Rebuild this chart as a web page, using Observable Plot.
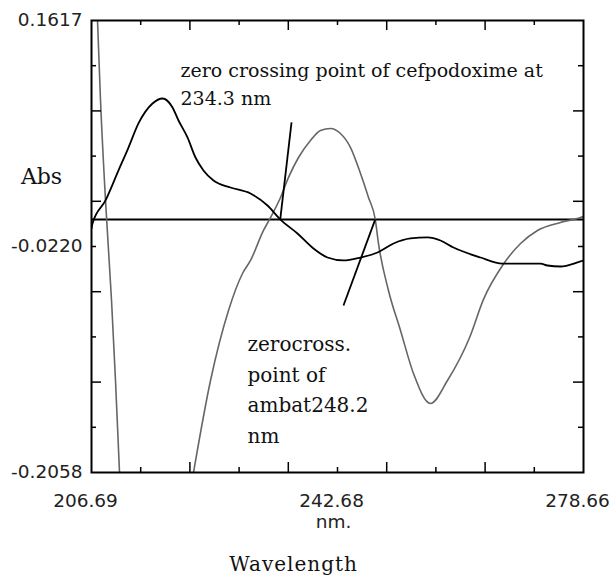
<!DOCTYPE html>
<html><head><meta charset="utf-8">
<script src="https://cdn.jsdelivr.net/npm/d3@7"></script>
<script src="https://cdn.jsdelivr.net/npm/@observablehq/plot@0.6"></script>
<style>body{margin:0;background:#fff}</style>
</head><body><div id="chart"></div>
<script>
// ---- data ----
const xLabels = [206.69, 242.68, 278.66];
const yLabels = [0.1617, -0.0220, -0.2058];

const blackWl  = [206.69, 206.84, 208.74, 210.64, 212.10, 213.56, 215.61, 217.08, 218.54, 219.42, 220.73, 221.90, 223.07, 224.54, 227.02, 229.95, 232.44, 234.30, 236.82, 239.16, 241.21, 243.55, 246.04, 248.53, 250.87, 253.35, 255.84, 257.74, 259.64, 263.59, 266.81, 272.37, 273.39, 275.30, 277.78, 278.66];
const blackAbs = [-0.0074, -0.0033, 0.0154, 0.0398, 0.0584, 0.0780, 0.0942, 0.0983, 0.0910, 0.0804, 0.0666, 0.0503, 0.0398, 0.0316, 0.0259, 0.0210, 0.0113, 0.0000, -0.0115, -0.0237, -0.0310, -0.0334, -0.0310, -0.0269, -0.0196, -0.0155, -0.0147, -0.0172, -0.0229, -0.0310, -0.0359, -0.0359, -0.0375, -0.0383, -0.0350, -0.0334];

const grayWl  = [207.57, 208.01, 208.74, 209.62, 210.20, 210.79, 216.00, 221.61, 224.10, 226.73, 228.78, 229.95, 231.85, 232.73, 234.34, 235.51, 236.97, 238.72, 240.19, 241.65, 243.11, 244.58, 246.04, 247.21, 248.20, 248.67, 250.13, 251.89, 253.79, 256.28, 258.76, 262.00, 264.03, 266.81, 269.45, 271.93, 275.30, 278.22, 278.66];
const grayAbs = [0.1617, 0.0967, 0.0154, -0.0659, -0.1310, -0.2058, null, -0.2058, -0.1310, -0.0741, -0.0440, -0.0334, -0.0090, 0.0000, 0.0178, 0.0341, 0.0503, 0.0641, 0.0723, 0.0739, 0.0698, 0.0584, 0.0373, 0.0178, 0.0000, -0.0196, -0.0578, -0.0903, -0.1253, -0.1497, -0.1310, -0.0960, -0.0650, -0.0375, -0.0196, -0.0090, -0.0025, 0.0015, 0.0024];

const pointerStartWl  = [234.3, 243.55];
const pointerStartAbs = [0.0, -0.0700];
const pointerEndWl    = [235.95, 248.2];
const pointerEndAbs   = [0.0788, 0.0];

const noteTexts = ["zero crossing point of cefpodoxime at\n234.3 nm", "zerocross.\npoint of\nambat248.2\nnm"];
const noteWl  = [219.71, 229.51];
const noteAbs = [0.1320, -0.0894];

// ---- layout ----
const W = 614, H = 579;
const mL = 91, mR = 31, mT = 20, mB = 107;
const xMin = xLabels[0], xMax = xLabels[2];
const yMin = yLabels[2], yMax = yLabels[0];
const ux = (xMax - xMin) / (W - mL - mR);
const uy = (yMax - yMin) / (H - mT - mB);

const black = blackWl.map((w, i) => ({w, a: blackAbs[i]}));
const gray = grayWl.map((w, i) => ({w, a: grayAbs[i]}));
const pointers = pointerStartWl.map((w, i) => ({x1: w, y1: pointerStartAbs[i], x2: pointerEndWl[i], y2: pointerEndAbs[i]}));
const notes = noteTexts.map((t, i) => ({t, w: noteWl[i], a: noteAbs[i]}));

const idx = d3.range(1, 10);
const xt = i => xMin + i * (xMax - xMin) / 10;
const yt = i => yMax - i * (yMax - yMin) / 10;
const len = i => (i % 2 === 0 ? 10 : 5);

const serif = "DejaVu Serif";

const chart = Plot.plot({
  width: W, height: H,
  marginLeft: mL, marginRight: mR, marginTop: mT, marginBottom: mB,
  x: {domain: [xMin, xMax]},
  y: {domain: [yMin, yMax]},
  style: {fontFamily: "DejaVu Sans", fontSize: "18.5px", color: "#222", background: "#fff"},
  marks: [
    Plot.ruleY([0], {stroke: "#000", strokeWidth: 2}),
    Plot.line(gray, {x: "w", y: "a", stroke: "#666", strokeWidth: 1.6, curve: "monotone-x", clip: true}),
    Plot.line(black, {x: "w", y: "a", stroke: "#000", strokeWidth: 1.8, curve: "monotone-x", clip: true}),
    Plot.link(pointers, {x1: "x1", y1: "y1", x2: "x2", y2: "y2", stroke: "#000", strokeWidth: 1.8}),
    // inward ticks
    Plot.ruleX(idx, {x: xt, y1: yMin, y2: i => yMin + len(i) * uy, stroke: "#000", strokeWidth: 1.5}),
    Plot.ruleX(idx, {x: xt, y1: yMax, y2: i => yMax - len(i) * uy, stroke: "#000", strokeWidth: 1.5}),
    Plot.ruleY(idx, {y: yt, x1: xMin, x2: i => xMin + len(i) * ux, stroke: "#000", strokeWidth: 1.5}),
    Plot.ruleY(idx, {y: yt, x1: xMax, x2: i => xMax - len(i) * ux, stroke: "#000", strokeWidth: 1.5}),
    Plot.frame({stroke: "#000", strokeWidth: 2}),
    Plot.axisY({ticks: yLabels, tickSize: 0, tickPadding: 9, tickFormat: d => d.toFixed(4), label: null, fill: "#222"}),
    Plot.axisX({ticks: xLabels, tickSize: 0, tickPadding: 21, dx: -6, tickFormat: d => d.toFixed(2), label: null, fill: "#222"}),
    Plot.text(notes.slice(0, 1),
      {x: "w", y: "a", text: "t", textAnchor: "start", lineAnchor: "top", fontFamily: serif, fontSize: 19, lineHeight: 1.47, fill: "#111"}),
    Plot.text(notes.slice(1),
      {x: "w", y: "a", text: "t", textAnchor: "start", lineAnchor: "top", fontFamily: serif, fontSize: 20, lineHeight: 1.53, fill: "#111"}),
    Plot.text(["Abs"], {frameAnchor: "left", text: d => d, dx: -50, dy: -63, lineAnchor: "bottom", textAnchor: "middle", fontFamily: serif, fontSize: 22, fill: "#111"}),
    Plot.text(["nm."], {frameAnchor: "bottom", text: d => d, dx: -4, dy: 55, lineAnchor: "bottom", textAnchor: "middle", fill: "#222"}),
    Plot.text(["Wavelength"], {frameAnchor: "bottom", text: d => d, dx: -44, dy: 98, lineAnchor: "bottom", textAnchor: "middle", fontFamily: serif, fontSize: 20, fill: "#111"})
  ]
});
document.getElementById("chart").appendChild(chart);
d3.select(chart).selectAll("text").filter(function(){ return this.textContent === "Wavelength"; }).attr("letter-spacing", "1px");
</script>
</body></html>
